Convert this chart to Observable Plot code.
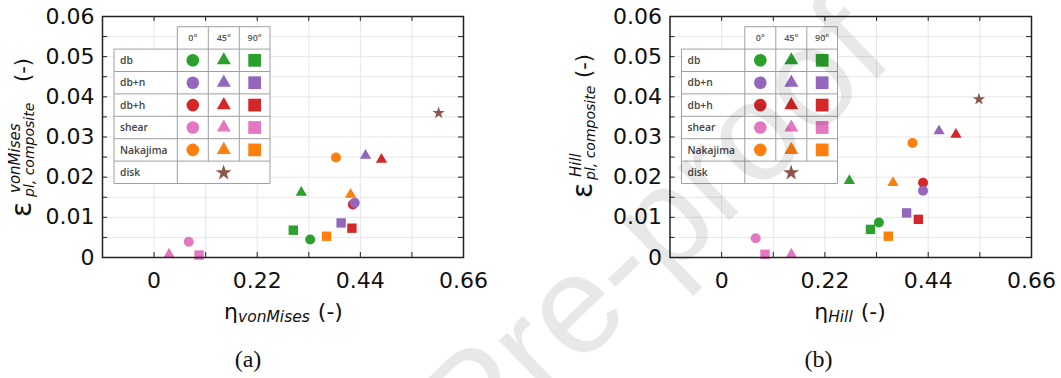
<!DOCTYPE html>
<html>
<head>
<meta charset="utf-8">
<script src="https://cdn.jsdelivr.net/npm/d3@7"></script>
<script src="https://cdn.jsdelivr.net/npm/@observablehq/plot@0.6"></script>
<style>
  html, body { margin: 0; padding: 0; background: #fff; }
  #page { position: relative; width: 1061px; height: 378px; overflow: hidden; }
  #page > svg { position: absolute; top: 0; }
</style>
</head>
<body>
<div id="page"></div>
<script>
// Load cases (legend rows) and sheet orientations (legend columns)
const cases = ["db", "db+n", "db+h", "shear", "Nakajima"];
const angles = ["0°", "45°", "90°"];
const caseColors = ["#2ca02c", "#9467bd", "#d62728", "#e377c2", "#ff7f0e"];
const diskColor = "#8c564b";

// (a) von Mises: stress triaxiality eta and composite plastic strain, rows = cases, columns = 0°, 45°, 90°
const etaVonMises = [
  [0.333, 0.314, 0.297],
  [0.428, 0.451, 0.399],
  [0.424, 0.485, 0.422],
  [0.074, 0.032, 0.096],
  [0.388, 0.419, 0.368]
];
const epsVonMises = [
  [0.0045, 0.0162, 0.0068],
  [0.0136, 0.0254, 0.0086],
  [0.0132, 0.0244, 0.0073],
  [0.0039, 0.0008, 0.0006],
  [0.0249, 0.0157, 0.0053]
];
const diskVonMises = [0.607, 0.036];

// (b) Hill
const etaHill = [
  [0.335, 0.272, 0.317],
  [0.429, 0.463, 0.394],
  [0.429, 0.499, 0.419],
  [0.0725, 0.1485, 0.0924],
  [0.4065, 0.365, 0.355]
];
const epsHill = [
  [0.0087, 0.0191, 0.0070],
  [0.0166, 0.0315, 0.0111],
  [0.0186, 0.0306, 0.0095],
  [0.0048, 0.0008, 0.0008],
  [0.0285, 0.0186, 0.0053]
];
const diskHill = [0.548, 0.0394];

// Axis ticks and grid
const xTickValues = [0, 0.22, 0.44, 0.66];
const xGridValues = [0, 0.11, 0.22, 0.33, 0.44, 0.55];
const yTickValues = [0, 0.01, 0.02, 0.03, 0.04, 0.05, 0.06];
const yGridValues = [0.005, 0.01, 0.015, 0.02, 0.025, 0.03, 0.035, 0.04, 0.045, 0.05, 0.055];

const symbolNames = ["circle", "triangle", "square"];
const d3Symbols = { circle: d3.symbolCircle, triangle: d3.symbolTriangle, square: d3.symbolSquare, star: d3.symbolStar };
const plotRadius = { circle: 5, triangle: 4.2, square: 5.3, star: 3.9 };
const legendRadius = { circle: 6.3, triangle: 5.2, square: 7.2, star: 5 };

const H = 335, MT = 16, MB = 78;
const page = d3.select("#page");
const fmt = d => d === 0 ? "0" : d.toFixed(2);

function buildRows(eta, eps) {
  const rows = [];
  cases.forEach((c, i) => angles.forEach((a, j) => {
    rows.push({ loadCase: c, angle: a, shape: symbolNames[j], eta: eta[i][j], eps: eps[i][j] });
  }));
  return rows.reverse();
}

function drawLegend(svg, x0, y0) {
  const cols = [12, 75.3, 106.3, 137.3, 168].map(v => x0 + v);
  const rowH = 22.4;
  const r0 = y0 + 10.7;
  const rowsY = d3.range(8).map(k => r0 + k * rowH);
  const g = svg.append("g").attr("class", "table-legend");
  const line = (x1, y1, x2, y2) => g.append("line")
    .attr("x1", x1).attr("y1", y1).attr("x2", x2).attr("y2", y2)
    .attr("stroke", "#a0a0a0").attr("stroke-width", 1);
  g.append("rect").attr("x", cols[1]).attr("y", rowsY[0]).attr("width", cols[4] - cols[1]).attr("height", rowH).attr("fill", "#fff");
  g.append("rect").attr("x", cols[0]).attr("y", rowsY[1]).attr("width", cols[4] - cols[0]).attr("height", rowsY[7] - rowsY[1]).attr("fill", "#fff");
  // header
  line(cols[1], rowsY[0], cols[4], rowsY[0]);
  // horizontal row lines
  for (let k = 1; k <= 7; k++) line(cols[0], rowsY[k], cols[4], rowsY[k]);
  // vertical lines
  line(cols[0], rowsY[1], cols[0], rowsY[7]);
  line(cols[1], rowsY[0], cols[1], rowsY[7]);
  line(cols[2], rowsY[0], cols[2], rowsY[6]);
  line(cols[3], rowsY[0], cols[3], rowsY[6]);
  line(cols[4], rowsY[0], cols[4], rowsY[7]);

  angles.forEach((a, j) => {
    g.append("text").attr("x", (cols[j + 1] + cols[j + 2]) / 2).attr("y", rowsY[0] + rowH / 2 + 3.2)
      .attr("text-anchor", "middle").attr("font-family", "Open Sans").attr("font-weight", 600)
      .attr("font-size", 9).attr("fill", "#555").text(a);
  });
  const labels = [...cases, "disk"];
  labels.forEach((c, i) => {
    const cy = rowsY[i + 1] + rowH / 2;
    g.append("text").attr("x", cols[0] + 6).attr("y", cy + 3.6).attr("text-anchor", "start")
      .attr("font-family", "Open Sans").attr("font-weight", 600)
      .attr("font-size", 10.3).attr("fill", "#444").text(c);
    if (i < cases.length) {
      symbolNames.forEach((s, j) => {
        const r = legendRadius[s];
        g.append("path")
          .attr("d", d3.symbol(d3Symbols[s], Math.PI * r * r)())
          .attr("transform", `translate(${(cols[j + 1] + cols[j + 2]) / 2},${cy})`)
          .attr("fill", caseColors[i]);
      });
    } else {
      const r = legendRadius.star;
      g.append("path")
        .attr("d", d3.symbol(d3Symbols.star, Math.PI * r * r)())
        .attr("transform", `translate(${(cols[1] + cols[4]) / 2},${cy + 0.5})`)
        .attr("fill", diskColor);
    }
  });
}

function makePanel(cfg) {
  const { eta, eps, disk, width, left, marginLeft, marginRight, sup, yLabel, xLabelX } = cfg;
  const innerW = width - marginLeft - marginRight;
  const innerH = H - MT - MB;
  const rows = buildRows(eta, eps);
  const diskRow = [{ loadCase: "disk", eta: disk[0], eps: disk[1] }];
  const byShape = s => rows.filter(d => d.shape === s);

  const chart = Plot.plot({
    width, height: H,
    marginLeft, marginRight, marginTop: MT, marginBottom: MB,
    x: { domain: [-0.11, 0.66] },
    y: { domain: [0, 0.06] },
    color: { domain: [...cases, "disk"], range: [...caseColors, diskColor] },
    style: { fontFamily: "DejaVu Sans", color: "#111", background: "white", overflow: "visible" },
    marks: [
      Plot.ruleX(xGridValues, { stroke: "#e6e6e6" }),
      Plot.ruleY(yGridValues, { stroke: "#e6e6e6" }),
      Plot.tickX(xGridValues, { x: d => d, insetTop: innerH - 5, stroke: "#222" }),
      Plot.tickX(xGridValues, { x: d => d, insetBottom: innerH - 5, stroke: "#222" }),
      Plot.tickY(yGridValues, { y: d => d, insetRight: innerW - 5, stroke: "#222" }),
      Plot.tickY(yGridValues, { y: d => d, insetLeft: innerW - 5, stroke: "#222" }),
      Plot.axisX(xTickValues, { tickSize: 0, tickPadding: 15, fontSize: 22, label: null, fill: "#111", tickFormat: fmt }),
      Plot.axisY(yTickValues, { tickSize: 0, tickPadding: 8, fontSize: 22, label: null, fill: "#111", tickFormat: fmt }),
      Plot.dot(byShape("square"), { x: "eta", y: "eps", fill: "loadCase", symbol: "square", r: plotRadius.square }),
      Plot.dot(byShape("triangle"), { x: "eta", y: "eps", fill: "loadCase", symbol: "triangle", r: plotRadius.triangle }),
      Plot.dot(byShape("circle"), { x: "eta", y: "eps", fill: "loadCase", symbol: "circle", r: plotRadius.circle }),
      Plot.dot(diskRow, { x: "eta", y: "eps", fill: "loadCase", symbol: "star", r: plotRadius.star }),
      Plot.frame({ stroke: "#222", strokeWidth: 1.5 })
    ]
  });

  const svg = d3.select(chart);
  svg.style("left", left + "px");
  drawLegend(svg, marginLeft, MT);

  // x-axis title: eta with italic subscript
  const xt = svg.append("text").attr("x", xLabelX).attr("y", 319)
    .attr("text-anchor", "middle").attr("font-family", "DejaVu Sans").attr("fill", "#111");
  xt.append("tspan").attr("font-size", 22).text("η");
  xt.append("tspan").attr("font-size", 15.5).attr("font-style", "italic").attr("dy", 3).text(sup);
  xt.append("tspan").attr("font-size", 22).attr("dy", -3).attr("dx", 8).text("(-)");

  // y-axis title: epsilon with stacked superscript and subscript, rotated
  const yg = svg.append("g")
    .attr("transform", `translate(${yLabel.x},${yLabel.start}) rotate(-90)`)
    .attr("text-anchor", "start")
    .attr("font-family", "DejaVu Sans").attr("fill", "#111");
  yg.append("text").attr("x", 0).attr("y", 0).attr("font-size", 28).text("ε");
  yg.append("text").attr("x", yLabel.supX).attr("y", -11).attr("font-size", 15).attr("font-style", "italic").text(sup);
  yg.append("text").attr("x", yLabel.subX).attr("y", 3).attr("font-size", 14).attr("font-style", "italic").text("pl, composite");
  yg.append("text").attr("x", yLabel.parenX).attr("y", -1).attr("font-size", 21).text("(-)");

  page.node().appendChild(chart);
}

makePanel({
  eta: etaVonMises, eps: epsVonMises, disk: diskVonMises,
  width: 530, left: 0, marginLeft: 102, marginRight: 67,
  sup: "vonMises", xLabelX: 283.5,
  yLabel: { x: 31, start: 217, supX: 24, subX: 20, parenX: 135 }
});
makePanel({
  eta: etaHill, eps: epsHill, disk: diskHill,
  width: 531, left: 530, marginLeft: 139.5, marginRight: 30,
  sup: "Hill", xLabelX: 320,
  yLabel: { x: 62, start: 198, supX: 21, subX: 18, parenX: 120 }
});

// Panel captions and the diagonal watermark
const over = page.append("svg")
  .attr("width", 1061).attr("height", 378).style("left", "0px").style("pointer-events", "none");
over.append("text").attr("x", 248).attr("y", 367).attr("text-anchor", "middle")
  .attr("font-family", "Liberation Serif").attr("font-size", 24).attr("fill", "#111").text("(a)");
over.append("text").attr("x", 818.5).attr("y", 367).attr("text-anchor", "middle")
  .attr("font-family", "Liberation Serif").attr("font-size", 24).attr("fill", "#111").text("(b)");
over.append("text")
  .attr("transform", "translate(896,60) rotate(-44)")
  .attr("text-anchor", "end").attr("font-family", "Liberation Sans").attr("font-size", 140)
  .attr("fill", "#000").attr("fill-opacity", 0.09).text("Pre-proof");
</script>
</body>
</html>
